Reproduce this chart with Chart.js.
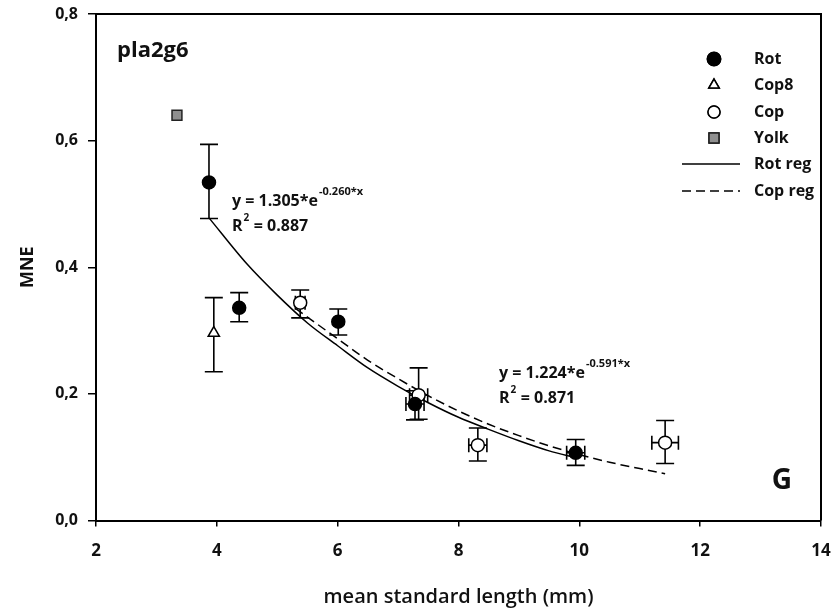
<!DOCTYPE html>
<html>
<head>
<meta charset="utf-8">
<script src="https://cdn.jsdelivr.net/npm/chart.js@4.4.1/dist/chart.umd.min.js"></script>
<style>
  html, body { margin: 0; padding: 0; background: #fff; }
  #wrap { width: 832px; height: 610px; }
</style>
</head>
<body>
<div id="wrap"><canvas id="c" width="832" height="610"></canvas></div>
<script>
const rotX    = [3.87, 4.37, 6.01, 7.28, 9.94];
const rotY    = [0.534, 0.336, 0.314, 0.184, 0.107];
const rotYLo  = [0.477, 0.314, 0.293, 0.159, 0.087];
const rotYHi  = [0.594, 0.360, 0.334, 0.205, 0.128];
const rotXErr = [0, 0, 0, 0.15, 0.15];

const cop8X    = [3.95];
const cop8Y    = [0.296];
const cop8YLo  = [0.235];
const cop8YHi  = [0.352];
const cop8XErr = [0];

const copX    = [5.38, 7.34, 8.32, 11.42];
const copY    = [0.344, 0.198, 0.119, 0.123];
const copYLo  = [0.320, 0.160, 0.094, 0.090];
const copYHi  = [0.364, 0.241, 0.146, 0.158];
const copXErr = [0.08, 0.15, 0.15, 0.22];

const yolkX = [3.34];
const yolkY = [0.640];

// regression curves
const rotRegX = [3.87, 4.5, 5, 5.5, 6, 6.5, 7, 7.5, 8, 8.5, 9, 9.5, 9.94];
const rotRegY = [0.478, 0.405, 0.356, 0.312, 0.276, 0.241, 0.212, 0.186, 0.163, 0.144, 0.126, 0.110, 0.099];
const copRegX = [5.3, 6, 6.5, 7, 7.5, 8, 8.5, 9, 9.5, 10, 10.5, 11, 11.42];
const copRegY = [0.335, 0.287, 0.253, 0.224, 0.197, 0.173, 0.152, 0.134, 0.118, 0.104, 0.092, 0.082, 0.074];

const xTicks = [2, 4, 6, 8, 10, 12, 14];
const yTicks = [0, 0.2, 0.4, 0.6, 0.8];

const FONT = '"Open Sans", "DejaVu Sans", sans-serif';

const pts = (xs, ys) => xs.map((x, i) => ({x, y: ys[i]}));

/* ——— error bars, drawn under the markers ——— */
const errorBars = {
    id: 'errorBars',
    beforeDatasetsDraw(chart) {
        const {ctx, scales: {x, y}} = chart;
        ctx.save();
        ctx.strokeStyle = '#000';
        ctx.lineWidth = 1.6;
        chart.data.datasets.forEach(ds => {
            if (!ds.errLo) return;
            ds.data.forEach((p, i) => {
                const px = x.getPixelForValue(p.x);
                const lo = y.getPixelForValue(ds.errLo[i]);
                const hi = y.getPixelForValue(ds.errHi[i]);
                const cap = 9;
                ctx.beginPath();
                ctx.moveTo(px, lo); ctx.lineTo(px, hi);
                ctx.moveTo(px - cap, lo); ctx.lineTo(px + cap, lo);
                ctx.moveTo(px - cap, hi); ctx.lineTo(px + cap, hi);
                const ex = ds.errX[i];
                if (ex) {
                    const py = y.getPixelForValue(p.y);
                    const l = x.getPixelForValue(p.x - ex);
                    const r = x.getPixelForValue(p.x + ex);
                    ctx.moveTo(l, py); ctx.lineTo(r, py);
                    ctx.moveTo(l, py - 7); ctx.lineTo(l, py + 7);
                    ctx.moveTo(r, py - 7); ctx.lineTo(r, py + 7);
                }
                ctx.stroke();
            });
        });
        ctx.restore();
    }
};

/* ——— frame, labels, equations, legend ——— */
const extras = {
    id: 'extras',
    afterDraw(chart) {
        const {ctx, chartArea: a} = chart;
        ctx.save();
        ctx.strokeStyle = '#000';
        ctx.lineWidth = 2;
        ctx.beginPath();
        ctx.moveTo(a.left, a.top); ctx.lineTo(a.right, a.top); ctx.lineTo(a.right, a.bottom);
        ctx.stroke();

        ctx.fillStyle = '#111';
        ctx.textBaseline = 'middle';
        ctx.textAlign = 'left';
        ctx.font = `bold 22px ${FONT}`;
        ctx.fillText('pla2g6', 117, 51);
        ctx.font = `bold 28px ${FONT}`;
        ctx.textAlign = 'center';
        ctx.fillText('G', 782, 481);

        // equations
        const eq = (x0, y0, base, sup, r2) => {
            ctx.textAlign = 'left';
            ctx.font = `bold 16px ${FONT}`;
            ctx.fillText(base, x0, y0);
            const w = ctx.measureText(base).width;
            ctx.font = `bold 11px ${FONT}`;
            ctx.fillText(sup, x0 + w + 1, y0 - 9);
            ctx.font = `bold 16px ${FONT}`;
            ctx.fillText('R', x0, y0 + 25);
            const wr = ctx.measureText('R').width;
            ctx.font = `bold 10px ${FONT}`;
            ctx.fillText('2', x0 + wr + 1, y0 + 17);
            ctx.font = `bold 16px ${FONT}`;
            ctx.fillText(' = ' + r2, x0 + wr + 7, y0 + 25);
        };
        eq(232, 201, 'y = 1.305*e', '-0.260*x', '0.887');
        eq(499, 373, 'y = 1.224*e', '-0.591*x', '0.871');

        // legend
        const rows = [59, 85, 112, 138, 164, 191];
        ctx.font = `bold 16px ${FONT}`;
        chart.data.datasets.forEach((ds, i) => {
            const yy = rows[i];
            if (ds.showLine) {
                ctx.strokeStyle = '#000';
                ctx.lineWidth = ds.borderWidth;
                ctx.setLineDash(ds.borderDash || []);
                ctx.beginPath(); ctx.moveTo(682, yy); ctx.lineTo(740, yy); ctx.stroke();
                ctx.setLineDash([]);
            } else {
                Chart.helpers.drawPoint(ctx, {
                    pointStyle: ds.pointStyle, radius: ds.legendRadius,
                    borderWidth: ds.borderWidth, rotation: 0
                }, 714, yy);
                ctx.fillStyle = ds.backgroundColor;
                ctx.strokeStyle = ds.borderColor;
                ctx.lineWidth = ds.borderWidth;
                ctx.fill(); ctx.stroke();
            }
            ctx.fillStyle = '#111';
            ctx.textAlign = 'left';
            ctx.fillText(ds.label, 754, yy);
        });
        ctx.restore();
    }
};

new Chart(document.getElementById('c'), {
    type: 'scatter',
    data: {
        datasets: [
            {label: 'Rot', data: pts(rotX, rotY), errLo: rotYLo, errHi: rotYHi, errX: rotXErr,
             pointStyle: 'circle', pointRadius: 6.5, legendRadius: 6.5, backgroundColor: '#000',
             borderColor: '#000', borderWidth: 1.5, order: 1},
            {label: 'Cop8', data: pts(cop8X, cop8Y), errLo: cop8YLo, errHi: cop8YHi, errX: cop8XErr,
             pointStyle: 'triangle', pointRadius: 6.5, legendRadius: 6, backgroundColor: '#fff',
             borderColor: '#000', borderWidth: 1.5, order: 1},
            {label: 'Cop', data: pts(copX, copY), errLo: copYLo, errHi: copYHi, errX: copXErr,
             pointStyle: 'circle', pointRadius: 6.5, legendRadius: 6, backgroundColor: '#fff',
             borderColor: '#000', borderWidth: 1.5, order: 1},
            {label: 'Yolk', data: pts(yolkX, yolkY),
             pointStyle: 'rect', pointRadius: 7, legendRadius: 7, backgroundColor: '#8f8f8f',
             borderColor: '#222', borderWidth: 1.5, order: 1},
            {label: 'Rot reg', data: pts(rotRegX, rotRegY), showLine: true, pointRadius: 0,
             borderColor: '#000', borderWidth: 1.5, cubicInterpolationMode: 'monotone', order: 5},
            {label: 'Cop reg', data: pts(copRegX, copRegY), showLine: true, pointRadius: 0,
             borderColor: '#000', borderWidth: 1.5, borderDash: [9, 5],
             cubicInterpolationMode: 'monotone', order: 5}
        ]
    },
    options: {
        responsive: false,
        animation: false,
        events: [],
        layout: {padding: {top: 14, right: 11, left: 0, bottom: 0}},
        plugins: {legend: {display: false}, tooltip: {enabled: false}},
        scales: {
            x: {
                type: 'linear', min: 2, max: 14,
                afterBuildTicks: s => { s.ticks = xTicks.map(v => ({value: v})); },
                afterFit: s => { s.height = 89.5; s.paddingLeft = 0; s.paddingRight = 0; },
                grid: {drawOnChartArea: false, tickLength: 6, color: '#000', lineWidth: 1.5},
                border: {display: true, color: '#000', width: 2},
                ticks: {padding: 14, color: '#111', font: {family: FONT, size: 17, weight: 'bold'}},
                title: {display: true, text: 'mean standard length (mm)', color: '#111',
                        padding: {top: 0, bottom: 1}, font: {family: FONT, size: 20, weight: '600'}}
            },
            y: {
                type: 'linear', min: 0, max: 0.8,
                afterBuildTicks: s => { s.ticks = yTicks.map(v => ({value: v})); },
                afterFit: s => { s.width = 96; s.paddingTop = 0; s.paddingBottom = 0; },
                grid: {drawOnChartArea: false, tickLength: 8, color: '#000', lineWidth: 1.5},
                border: {display: true, color: '#000', width: 2},
                ticks: {padding: 10, color: '#111', font: {family: FONT, size: 16, weight: 'bold'},
                        callback: v => v.toFixed(1).replace('.', ',')},
                title: {display: true, text: 'MNE', color: '#111',
                        padding: {top: 17, bottom: 0}, font: {family: FONT, size: 18, weight: 'bold'}}
            }
        }
    },
    plugins: [errorBars, extras]
});
</script>
</body>
</html>
